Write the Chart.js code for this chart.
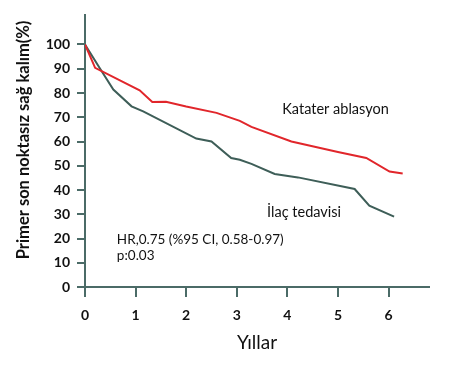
<!DOCTYPE html>
<html>
<head>
<meta charset="utf-8">
<script src="https://cdn.jsdelivr.net/npm/chart.js@4.4.0/dist/chart.umd.min.js"></script>
<style>
    body { margin: 0; background: #fff; }
</style>
</head>
<body>
<canvas id="survivalChart" width="469" height="371"></canvas>
<script>
// Kaplan-Meier style curves
const ablationYears = [0, 0.2, 1.08, 1.33, 1.6, 2.0, 2.6, 3.06, 3.29, 4.08, 5.0, 5.56, 6.02, 6.28];
const ablationSurvival = [100, 90.4, 81.1, 76.3, 76.4, 74.4, 71.8, 68.5, 66.0, 60.0, 55.7, 53.2, 47.6, 46.8];

const drugYears = [0, 0.33, 0.56, 0.92, 1.15, 2.2, 2.5, 2.89, 3.06, 3.29, 3.75, 4.21, 5.33, 5.62, 6.11];
const drugSurvival = [100, 89, 81.4, 74.5, 72.4, 61.2, 60.0, 53.2, 52.5, 50.8, 46.6, 45.2, 40.4, 33.5, 29.0];

const yearTicks = [0, 1, 2, 3, 4, 5, 6];
const survivalTicks = [0, 10, 20, 30, 40, 50, 60, 70, 80, 90, 100];

const axisColor = '#4b6b67';
const fontFamily = 'Lato, "DejaVu Sans", sans-serif';

function toPoints(xs, ys) {
    return xs.map((x, i) => ({ x: x, y: ys[i] }));
}

// labels inside the plot + rotated y title
const textPlugin = {
    id: 'textLabels',
    afterDraw(chart) {
        const ctx = chart.ctx;
        const xs = chart.scales.x;
        const ys = chart.scales.y;
        ctx.save();
        ctx.fillStyle = '#111';
        ctx.textBaseline = 'middle';
        ctx.textAlign = 'left';
        ctx.font = '14.5px ' + fontFamily;
        ctx.fillText('Katater ablasyon', xs.getPixelForValue(3.9), ys.getPixelForValue(73.1));
        ctx.fillText('İlaç tedavisi', xs.getPixelForValue(3.6), ys.getPixelForValue(30.6));
        ctx.font = '13.5px ' + fontFamily;
        ctx.fillText('HR,0.75 (%95 CI, 0.58-0.97)', xs.getPixelForValue(0.63), ys.getPixelForValue(19.4));
        ctx.fillText('p:0.03', xs.getPixelForValue(0.63), ys.getPixelForValue(12.8));

        ctx.translate(24, 140);
        ctx.rotate(-Math.PI / 2);
        ctx.textAlign = 'center';
        ctx.font = 'bold 16.5px ' + fontFamily;
        ctx.fillText('Primer son noktasız sağ kalım(%)', 0, 0);
        ctx.restore();
    }
};

new Chart(document.getElementById('survivalChart'), {
    type: 'line',
    data: {
        datasets: [{
            label: 'Katater ablasyon',
            data: toPoints(ablationYears, ablationSurvival),
            borderColor: '#e1262b',
            borderWidth: 2,
            pointRadius: 0,
            tension: 0
        }, {
            label: 'İlaç tedavisi',
            data: toPoints(drugYears, drugSurvival),
            borderColor: '#3e5e58',
            borderWidth: 2,
            pointRadius: 0,
            tension: 0
        }]
    },
    options: {
        responsive: false,
        devicePixelRatio: 1,
        animation: false,
        layout: {
            padding: { left: 0, top: 15, right: 40, bottom: 0 }
        },
        plugins: {
            legend: { display: false },
            tooltip: { enabled: false }
        },
        scales: {
            x: {
                type: 'linear',
                min: 0,
                max: 6.8,
                afterBuildTicks: scale => {
                    scale.ticks = yearTicks.map(v => ({ value: v }));
                },
                afterFit: scale => {
                    scale.height = 84;
                },
                grid: {
                    drawOnChartArea: false,
                    color: axisColor,
                    lineWidth: 2,
                    tickLength: 10
                },
                border: { color: axisColor, width: 2 },
                ticks: {
                    color: '#111',
                    padding: 10,
                    font: { family: fontFamily, size: 14, weight: 'bold' }
                },
                title: {
                    display: true,
                    text: 'Yıllar',
                    color: '#111',
                    padding: { top: 0, bottom: 17 },
                    font: { family: fontFamily, size: 19 }
                }
            },
            y: {
                min: 0,
                max: 112,
                afterBuildTicks: scale => {
                    scale.ticks = survivalTicks.map(v => ({ value: v }));
                },
                afterFit: scale => {
                    scale.width = 85;
                },
                grid: {
                    drawOnChartArea: false,
                    color: axisColor,
                    lineWidth: 2,
                    tickLength: 8
                },
                border: { color: axisColor, width: 2 },
                ticks: {
                    color: '#111',
                    padding: 7,
                    font: { family: fontFamily, size: 14, weight: 'bold' }
                }
            }
        }
    },
    plugins: [textPlugin]
});
</script>
</body>
</html>
